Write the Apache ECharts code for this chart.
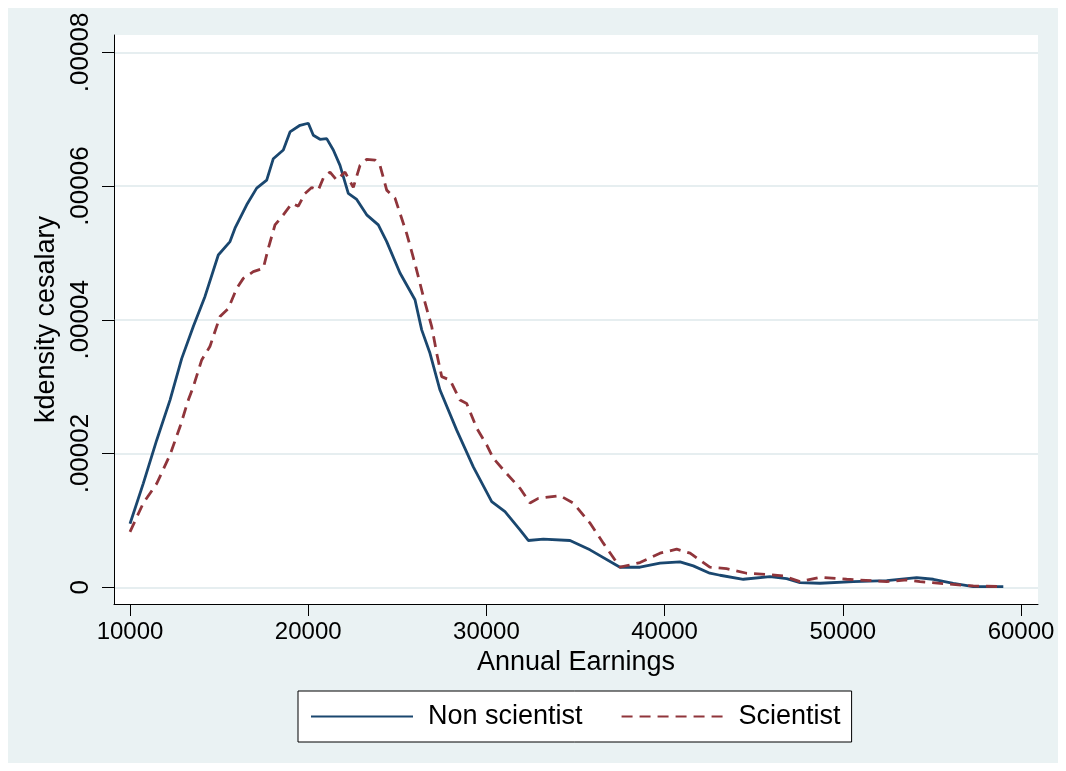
<!DOCTYPE html>
<html>
<head>
<meta charset="utf-8">
<script src="https://cdn.jsdelivr.net/npm/echarts@6/dist/echarts.min.js"></script>
<style>
html,body{margin:0;padding:0;background:#fff;}
#chart{width:1066px;height:771px;}
</style>
</head>
<body>
<div id="chart"></div>
<script>
// ---- data ----
const seriesNames = ['Non scientist', 'Scientist'];

const nonSciX = [10000,10747,11497,12245,12900,13552,14209,14955,15612,15892,16549,17110,17671,18042,18603,18979,19540,20006,20287,20662,21038,21409,21785,22250,22722,23283,23934,24405,25151,25993,26369,26835,27396,28333,29265,30297,31044,31886,32351,33193,34691,35813,37497,38620,39742,40864,41611,42536,43109,44418,45915,46852,47598,48721,50589,52464,54147,55079,56201,57323,59007];
const nonSciY = [0.95,1.555,2.20,2.80,3.42,3.90,4.35,4.97,5.17,5.37,5.72,5.97,6.09,6.41,6.54,6.81,6.91,6.94,6.76,6.70,6.71,6.54,6.31,5.89,5.80,5.57,5.42,5.17,4.70,4.30,3.85,3.50,2.95,2.35,1.80,1.28,1.13,0.86,0.70,0.72,0.70,0.56,0.30,0.30,0.36,0.38,0.32,0.21,0.18,0.12,0.16,0.13,0.07,0.06,0.085,0.10,0.145,0.12,0.06,0.01,0.01];

const sciX = [10000,10747,11497,12245,12806,13272,13552,14024,14484,15051,15516,15988,16358,16919,17480,17761,18137,18603,19074,19444,19820,20196,20566,20847,21223,21599,22065,22531,22907,23283,23749,24029,24405,24871,25527,25993,26459,26931,27211,27492,27957,28519,28894,29456,30017,30387,31139,31886,32447,32913,34130,34877,35813,36562,37497,38620,39742,40679,41431,42536,43473,44605,45915,46661,47598,48721,50219,52464,53586,54333,55830,57323,59007];
const sciY = [0.83,1.26,1.55,1.98,2.40,2.80,3.00,3.40,3.60,4.05,4.17,4.47,4.62,4.72,4.77,5.07,5.42,5.57,5.74,5.70,5.89,5.98,5.94,6.12,6.21,6.09,6.21,5.98,6.31,6.40,6.39,6.31,5.94,5.82,5.29,4.84,4.35,3.90,3.50,3.15,3.10,2.80,2.75,2.38,2.13,1.93,1.70,1.48,1.26,1.33,1.37,1.26,0.96,0.66,0.30,0.37,0.51,0.57,0.51,0.30,0.28,0.21,0.19,0.17,0.085,0.15,0.12,0.085,0.11,0.085,0.05,0.02,0.01];
const yScale = 1e-5; // values above are in units of 1e-5

const xTickValues = [10000, 20000, 30000, 40000, 50000, 60000];
const yTickValues = [0, 0.00002, 0.00004, 0.00006, 0.00008];
const yTickLabels = ['0', '.00002', '.00004', '.00006', '.00008'];
const xTitle = 'Annual Earnings';
const yTitle = 'kdensity cesalary';

// ---- build ----
const FONT = "'Liberation Sans', Arial, Helvetica, sans-serif";
const pairs = (xs, ys) => xs.map((x, i) => [x, ys[i] * yScale]);

const chart = echarts.init(document.getElementById('chart'), null, {renderer: 'canvas'});
chart.setOption({
  animation: false,
  backgroundColor: '#ffffff',
  textStyle: {fontFamily: FONT, color: '#000'},
  graphic: [
    {type: 'rect', z: -10, shape: {x: 8, y: 8, width: 1050, height: 755}, style: {fill: '#eaf2f3'}}
  ],
  grid: {left: 114, right: 28, top: 35, bottom: 167, show: true, backgroundColor: '#ffffff', borderWidth: 0},
  legend: {
    left: 298, top: 691,
    padding: [12, 11, 12, 12],
    backgroundColor: '#ffffff', borderColor: '#000', borderWidth: 1,
    itemWidth: 102, itemHeight: 3, itemGap: 38,
    itemStyle: {opacity: 0},
    textStyle: {fontFamily: FONT, fontSize: 27, color: '#000', padding: [0, 0, 0, 10], lineHeight: 26},
    data: seriesNames
  },
  xAxis: {
    type: 'value', min: 9102, max: 60954,
    name: xTitle, nameLocation: 'middle', nameGap: 43,
    nameTextStyle: {fontFamily: FONT, fontSize: 27, color: '#000'},
    axisLine: {show: true, onZero: false, lineStyle: {color: '#000', width: 1}},
    axisTick: {show: true, length: 12, lineStyle: {color: '#000'}, customValues: xTickValues},
    axisLabel: {fontFamily: FONT, fontSize: 24, color: '#000', margin: 16, customValues: xTickValues, formatter: v => String(v)},
    splitLine: {show: false}
  },
  yAxis: {
    type: 'value', min: -0.0000025, max: 0.0000826,
    name: yTitle, nameLocation: 'middle', nameGap: 46,
    nameTextStyle: {fontFamily: FONT, fontSize: 27, color: '#000'},
    axisLine: {show: true, onZero: false, lineStyle: {color: '#000', width: 1}},
    axisTick: {show: true, length: 12, lineStyle: {color: '#000'}, customValues: yTickValues},
    axisLabel: {
      fontFamily: FONT, fontSize: 26, color: '#000', rotate: 90, margin: 20, customValues: yTickValues,
      formatter: v => { const i = yTickValues.findIndex(t => Math.abs(t - v) < 1e-9); return i >= 0 ? yTickLabels[i] : ''; }
    },
    splitLine: {show: true, lineStyle: {color: '#e6eef0', width: 2}}
  },
  series: [
    {
      name: seriesNames[0], type: 'line', data: pairs(nonSciX, nonSciY),
      showSymbol: false, symbol: 'none', smooth: false,
      lineStyle: {color: '#1a476f', width: 2.8}, itemStyle: {color: '#1a476f'}
    },
    {
      name: seriesNames[1], type: 'line', data: pairs(sciX, sciY),
      showSymbol: false, symbol: 'none', smooth: false,
      lineStyle: {color: '#90353b', width: 2.8, type: [11, 7]}, itemStyle: {color: '#90353b'}
    }
  ]
});
</script>
</body>
</html>
